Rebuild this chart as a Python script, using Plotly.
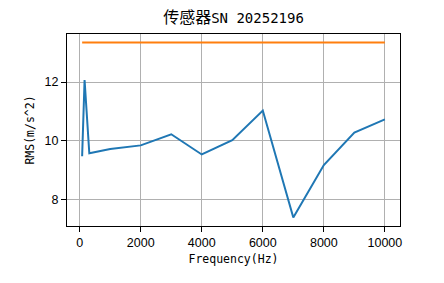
import plotly.graph_objects as go

freq = [80, 160, 315, 1000, 2000, 3000, 4000, 5000, 6000, 7000, 8000, 9000, 10000]
rms = [9.47, 12.07, 9.57, 9.72, 9.84, 10.22, 9.53, 10.02, 11.03, 7.38, 9.17, 10.28, 10.73]
limit_x = [80, 10000]
limit_y = [13.35, 13.35]
x_ticks = [0, 2000, 4000, 6000, 8000, 10000]
x_ticktext = ["0", "2000", "4000", "6000", "8000", "10000"]
y_ticks = [8, 10, 12]
y_ticktext = ["8", "10", "12"]

fig = go.Figure()
fig.add_trace(go.Scatter(x=freq, y=rms, mode="lines",
                         line=dict(color="#1f77b4", width=2), showlegend=False))
fig.add_trace(go.Scatter(x=limit_x, y=limit_y, mode="lines",
                         line=dict(color="#ff7f0e", width=2), showlegend=False))

mono = "DejaVu Sans Mono, Noto Sans CJK SC, monospace"
tickfont = dict(family="Liberation Sans, Arial", size=12.5, color="black")

title_text = ("<span style='font-family:Noto Sans CJK SC;font-size:16px'>传感器</span>"
              "<span style='font-family:DejaVu Sans Mono;font-size:14px'>SN 20252196</span>")

fig.update_layout(
    width=444, height=283,
    margin=dict(l=67, r=44, t=34, b=57),
    paper_bgcolor="white", plot_bgcolor="white",
    title=dict(text=title_text, x=0.5, xref="paper", xanchor="center", y=0.935,
               yanchor="middle", font=dict(family=mono, size=14, color="black")),
    xaxis=dict(range=[-416, 10496], tickvals=x_ticks, ticktext=x_ticktext, showgrid=True,
               gridcolor="#b0b0b0", gridwidth=1, showline=True, linecolor="black",
               linewidth=1, mirror=True, ticks="outside", ticklen=5, tickcolor="black",
               tickfont=tickfont, zeroline=False,
               title=dict(text="Frequency(Hz)", font=dict(family=mono, size=11.5, color="black"),
                          standoff=5)),
    yaxis=dict(range=[7.09, 13.64], tickvals=y_ticks, ticktext=y_ticktext, showgrid=True,
               gridcolor="#b0b0b0", gridwidth=1, showline=True, linecolor="black",
               linewidth=1, mirror=True, ticks="outside", ticklen=5, tickcolor="black",
               tickfont=tickfont, zeroline=False,
               title=dict(text="RMS(m/s^2)", font=dict(family=mono, size=11.5, color="black"),
                          standoff=7)),
)

fig.write_html("out.html")
